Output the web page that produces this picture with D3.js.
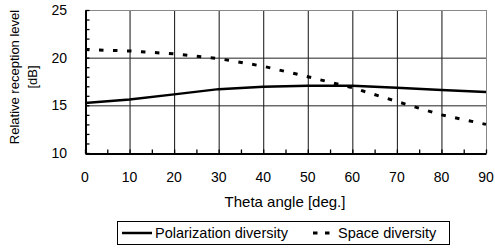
<!DOCTYPE html>
<meta charset="utf-8">
<script src="https://cdn.jsdelivr.net/npm/d3@7"></script>
<style>
body{margin:0;background:#fff;}
text{font-family:"Liberation Sans",Arial,sans-serif;fill:#000;}
</style>
<body>
<script>
var theta=[0,10,20,30,40,50,60,70,80,90];
var polarization=[15.25,15.6,16.15,16.7,16.95,17.05,17.05,16.85,16.6,16.4];
var space=[20.85,20.7,20.4,19.9,19.1,18.0,16.85,15.4,14.0,13.0];
var xTicks=[0,10,20,30,40,50,60,70,80,90];
var yTicks=[10,15,20,25];
var seriesNames=["Polarization diversity","Space diversity"];

var svg=d3.select("body").append("svg").attr("width",495).attr("height",249);

var x=d3.scaleLinear().domain([0,90]).range([85,486]);
var y=d3.scaleLinear().domain([10,25]).range([153,10]);

// grid
svg.append("g").selectAll("line").data(xTicks.slice(1,-1)).enter().append("line")
  .attr("x1",function(d){return x(d)+0.5}).attr("x2",function(d){return x(d)+0.5})
  .attr("y1",y(25)).attr("y2",y(10)).attr("stroke","#111").attr("stroke-width",1);
svg.append("g").selectAll("line").data([15,20]).enter().append("line")
  .attr("x1",x(0)).attr("x2",x(90))
  .attr("y1",function(d){return y(d)+0.5}).attr("y2",function(d){return y(d)+0.5})
  .attr("stroke","#222").attr("stroke-width",1);

// top/right border
svg.append("line").attr("x1",x(0)).attr("x2",x(90)).attr("y1",y(25)+0.5).attr("y2",y(25)+0.5).attr("stroke","#888");
svg.append("line").attr("x1",x(90)+0.5).attr("x2",x(90)+0.5).attr("y1",y(25)).attr("y2",y(10)).attr("stroke","#888");

// axes
var xAxis=d3.axisBottom(x).tickValues(d3.range(0,91,5)).tickSize(-4).tickFormat("").tickSizeOuter(0);
var gx=svg.append("g").attr("transform","translate(0,"+(y(10)+0.5)+")").call(xAxis);
var yAxis=d3.axisLeft(y).tickValues(d3.range(10,26,1)).tickSize(-4).tickFormat("").tickSizeOuter(0);
var gy=svg.append("g").attr("transform","translate("+(x(0)+0.5)+",0)").call(yAxis);
svg.selectAll(".domain").attr("stroke","#000").attr("stroke-width",2);
svg.selectAll(".tick line").attr("stroke","#000").attr("stroke-width",1.3);

svg.append("g").selectAll("text").data(xTicks).enter().append("text")
  .attr("x",function(d){return x(d)}).attr("y",182)
  .attr("text-anchor","middle").style("font-size","14px").text(function(d){return d});
svg.append("g").selectAll("text").data(yTicks).enter().append("text")
  .attr("x",67).attr("y",function(d){return y(d)+5})
  .attr("text-anchor","end").style("font-size","14px").text(function(d){return d});

svg.append("text").attr("x",285).attr("y",207).attr("text-anchor","middle")
  .style("font-size","15px").text("Theta angle [deg.]");
svg.append("text").attr("transform","translate(19,77) rotate(-90)").attr("text-anchor","middle")
  .style("font-size","13px").text("Relative reception level");
svg.append("text").attr("transform","translate(37,77) rotate(-90)").attr("text-anchor","middle")
  .style("font-size","13px").text("[dB]");

// lines
var line=d3.line().x(function(d,i){return x(theta[i])}).y(function(d){return y(d)});
svg.append("path").datum(polarization).attr("d",line).attr("fill","none")
  .attr("stroke","#000").attr("stroke-width",2.5);
svg.append("path").datum(space).attr("d",line).attr("fill","none")
  .attr("stroke","#000").attr("stroke-width",3).attr("stroke-dasharray","4.5,9.5");

// legend
var lg=svg.append("g");
lg.append("rect").attr("x",117.5).attr("y",221.5).attr("width",332).attr("height",23)
  .attr("fill","#fff").attr("stroke","#000");
lg.append("line").attr("x1",122).attr("x2",152).attr("y1",233).attr("y2",233)
  .attr("stroke","#000").attr("stroke-width",2.5);
lg.append("text").attr("x",155).attr("y",238).style("font-size","14.5px").text(seriesNames[0]);
lg.append("line").attr("x1",313).attr("x2",335).attr("y1",233).attr("y2",233)
  .attr("stroke","#000").attr("stroke-width",3).attr("stroke-dasharray","4.5,7.5");
lg.append("text").attr("x",338).attr("y",238).style("font-size","14.5px").text(seriesNames[1]);
</script>
</body>
</html>
